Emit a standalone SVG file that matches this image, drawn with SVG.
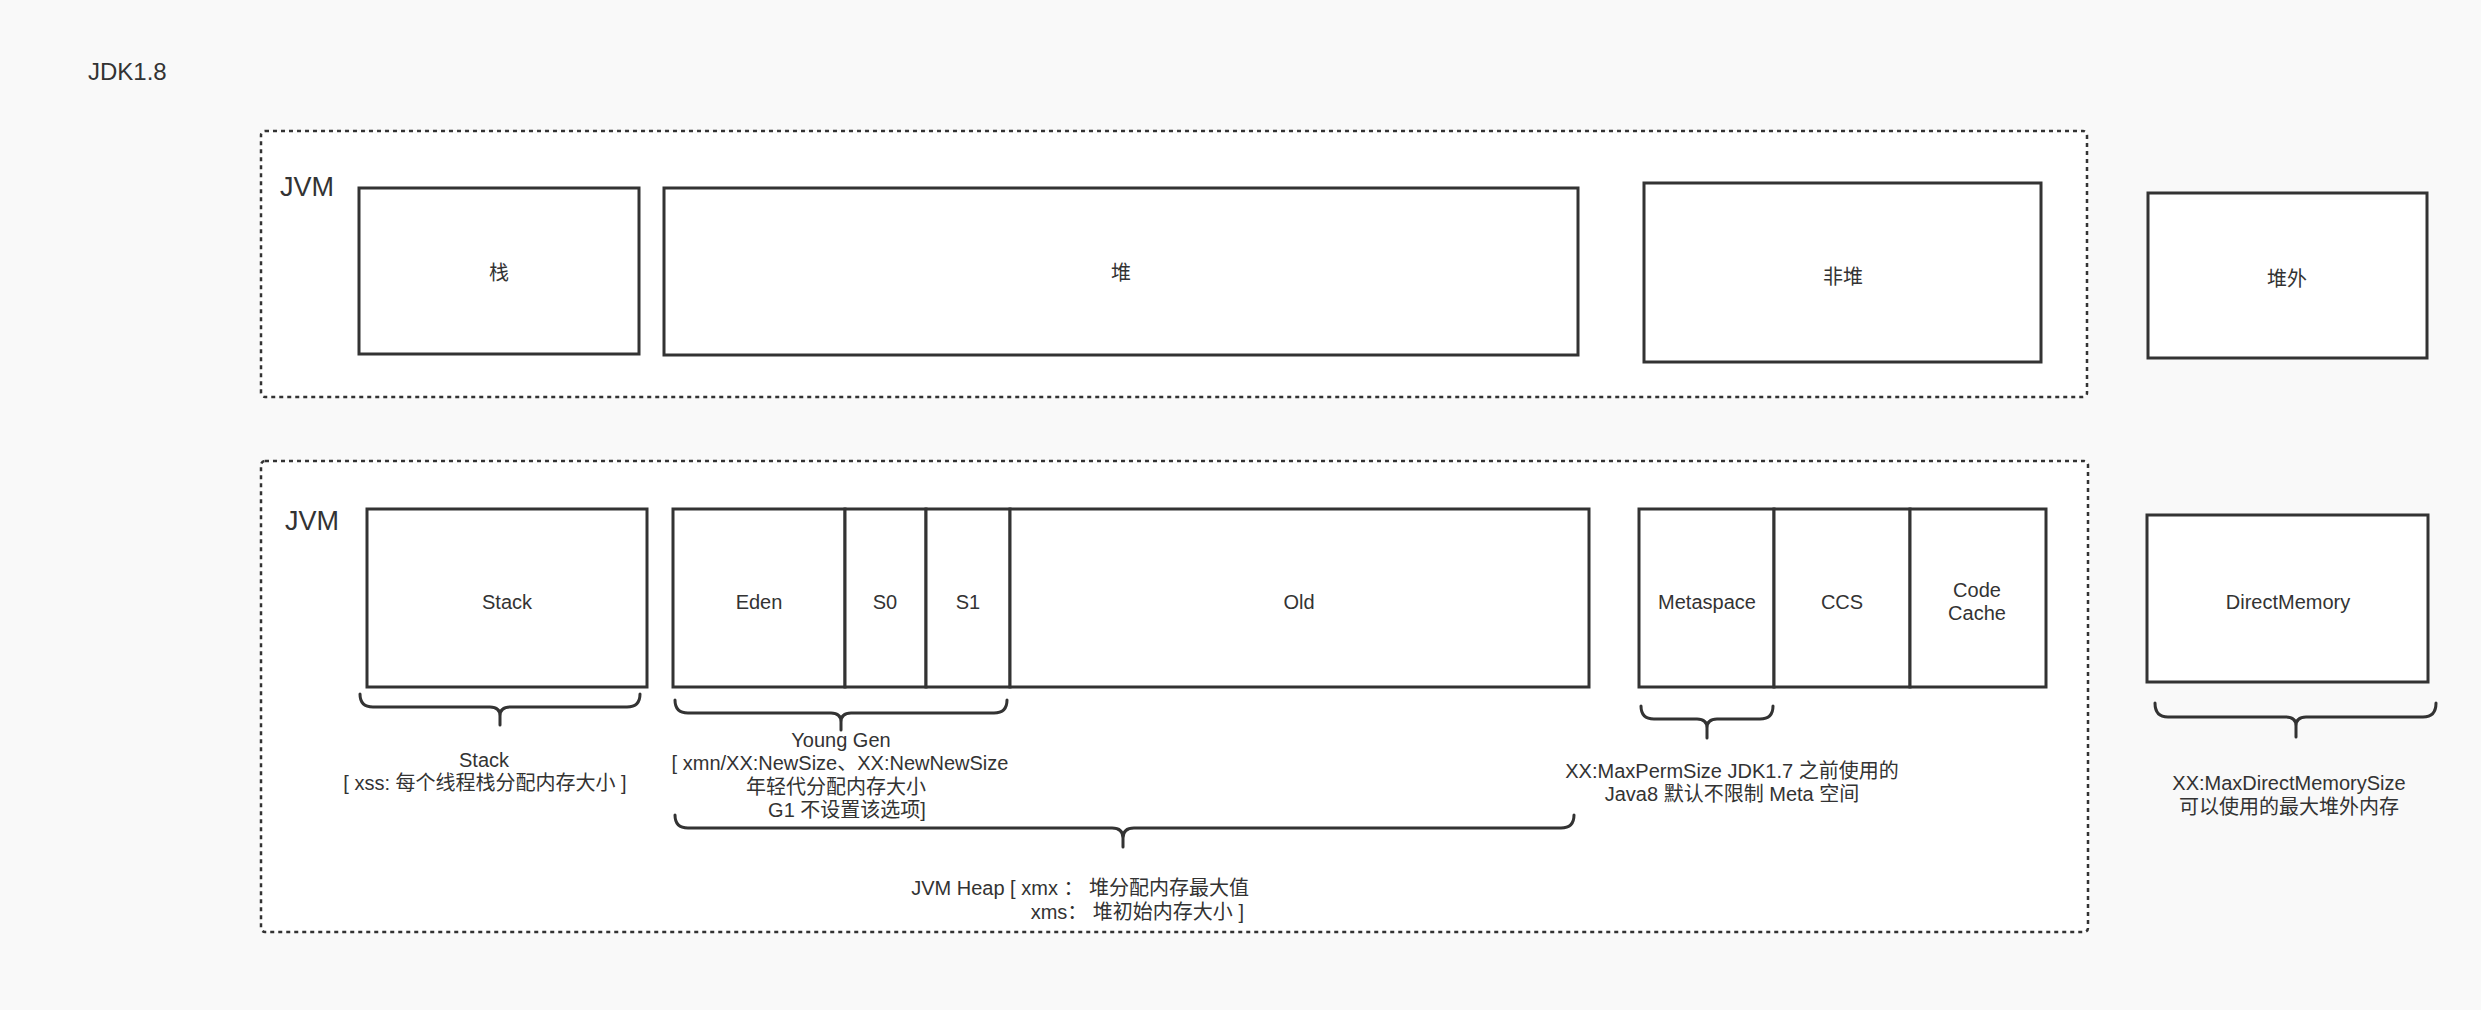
<svg xmlns="http://www.w3.org/2000/svg" width="2481" height="1010" viewBox="0 0 2481 1010">
<style>
text{font-family:"Liberation Sans","Noto Sans CJK SC",sans-serif;fill:#333;}
.lbl{font-size:20px;text-anchor:middle;}
.ann{font-size:20px;text-anchor:middle;}
.box{fill:#fff;stroke:#333;stroke-width:3;}
.frame{fill:#fff;stroke:#333;stroke-width:2.5;stroke-dasharray:4 4;}
.brace{fill:none;stroke:#333;stroke-width:3;stroke-linecap:round;stroke-linejoin:round;}
.jvm{font-size:27px;}
</style>
<rect width="2481" height="1010" fill="#f9f9f9"/>
<text id="title" x="88" y="80" font-size="24">JDK1.8</text>

<g id="frame-top">
<rect class="frame" x="261" y="131" width="1826" height="266" rx="4"/>
<text class="jvm" x="280" y="196">JVM</text>
</g>
<g id="node-zhan"><rect class="box" x="359" y="188" width="280" height="166"/><text class="lbl" x="499" y="280">栈</text></g>
<g id="node-dui"><rect class="box" x="664" y="188" width="914" height="167"/><text class="lbl" x="1121" y="280">堆</text></g>
<g id="node-feidui"><rect class="box" x="1644" y="183" width="397" height="179"/><text class="lbl" x="1843" y="284">非堆</text></g>
<g id="node-duiwai"><rect class="box" x="2148" y="193" width="279" height="165"/><text class="lbl" x="2287" y="286">堆外</text></g>

<g id="frame-bottom">
<rect class="frame" x="261" y="461" width="1827" height="471" rx="4"/>
<text class="jvm" x="285" y="530">JVM</text>
</g>
<g id="node-stack"><rect class="box" x="367" y="509" width="280" height="178"/><text class="lbl" x="507" y="609">Stack</text></g>
<g id="node-eden"><rect class="box" x="673" y="509" width="172" height="178"/><text class="lbl" x="759" y="609">Eden</text></g>
<g id="node-s0"><rect class="box" x="845" y="509" width="81" height="178"/><text class="lbl" x="885" y="609">S0</text></g>
<g id="node-s1"><rect class="box" x="926" y="509" width="84" height="178"/><text class="lbl" x="968" y="609">S1</text></g>
<g id="node-old"><rect class="box" x="1010" y="509" width="579" height="178"/><text class="lbl" x="1299" y="609">Old</text></g>
<g id="node-metaspace"><rect class="box" x="1639" y="509" width="135" height="178"/><text class="lbl" x="1707" y="609">Metaspace</text></g>
<g id="node-ccs"><rect class="box" x="1774" y="509" width="136" height="178"/><text class="lbl" x="1842" y="609">CCS</text></g>
<g id="node-codecache"><rect class="box" x="1910" y="509" width="136" height="178"/><text class="lbl" x="1977" y="597">Code</text><text class="lbl" x="1977" y="620">Cache</text></g>
<g id="node-directmemory"><rect class="box" x="2147" y="515" width="281" height="167"/><text class="lbl" x="2288" y="609">DirectMemory</text></g>

<g id="connectors">
<path class="brace" d="M360,694 Q360,707 373,707 H490 Q500,707 500,716 V725 M640,694 Q640,707 627,707 H510 Q500,707 500,716"/>
<path class="brace" d="M675,700 Q675,713 688,713 H831 Q841,713 841,722 V730 M1007,700 Q1007,713 994,713 H851 Q841,713 841,722"/>
<path class="brace" d="M675,815 Q675,828 688,828 H1112 Q1123,828 1123,838 V847 M1574,815 Q1574,828 1561,828 H1134 Q1123,828 1123,838"/>
<path class="brace" d="M1641,706 Q1641,719 1654,719 H1697 Q1707,719 1707,728 V738 M1773,706 Q1773,719 1760,719 H1717 Q1707,719 1707,728"/>
<path class="brace" d="M2155,703 Q2155,717 2168,717 H2286 Q2296,717 2296,726 V737 M2436,703 Q2436,717 2423,717 H2306 Q2296,717 2296,726"/>
</g>

<g id="note-stack">
<text class="ann" x="484" y="767">Stack</text>
<text class="ann" x="485" y="790">[ xss: 每个线程栈分配内存大小 ]</text>
</g>
<g id="note-young">
<text class="ann" x="841" y="747">Young Gen</text>
<text class="ann" x="840" y="770">[ xmn/XX:NewSize、XX:NewNewSize</text>
<text class="ann" x="836" y="794">年轻代分配内存大小</text>
<text class="ann" x="847" y="817">G1 不设置该选项]</text>
</g>
<g id="note-heap">
<text x="1249" y="895" font-size="20" text-anchor="end">JVM Heap [ xmx ： 堆分配内存最大值</text>
<text x="1244" y="919" font-size="20" text-anchor="end">xms： 堆初始内存大小 ]</text>
</g>
<g id="note-meta">
<text class="ann" x="1732" y="778">XX:MaxPermSize JDK1.7 之前使用的</text>
<text class="ann" x="1732" y="801">Java8 默认不限制 Meta 空间</text>
</g>
<g id="note-direct">
<text class="ann" x="2289" y="790">XX:MaxDirectMemorySize</text>
<text class="ann" x="2289" y="814">可以使用的最大堆外内存</text>
</g>
</svg>
